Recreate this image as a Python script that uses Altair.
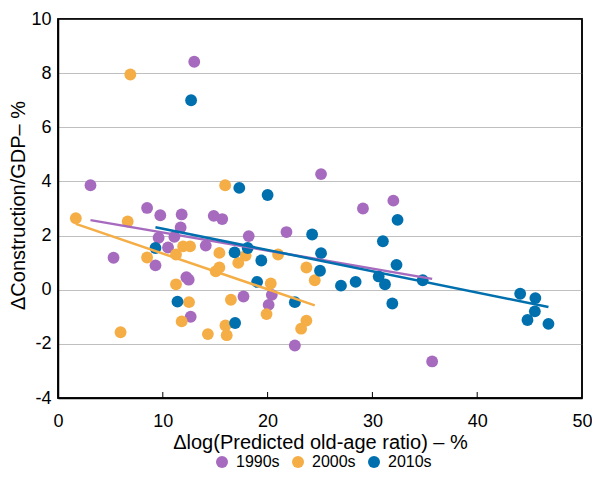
import altair as alt
import pandas as pd

# ---- data ----
x90 = [3.1, 5.3, 8.5, 9.76, 11.8, 11.7, 11.1, 9.6, 10.5, 9.3, 12.25, 12.47, 12.66, 13.0,
       14.86, 15.67, 14.1, 18.2, 17.7, 20.4, 20.1, 21.8, 22.6, 25.1, 29.1, 32.0, 35.7]
y90 = [3.86, 1.18, 3.02, 2.75, 2.78, 2.3, 1.95, 1.92, 1.56, 0.9, 0.46, 0.37, -1.0, 8.42,
       2.73, 2.61, 1.63, 1.98, -0.25, -0.19, -0.56, 2.13, -2.06, 4.27, 3.0, 3.29, -2.65]

x00 = [6.9, 1.7, 6.65, 8.5, 5.97, 11.26, 11.94, 12.6, 11.26, 12.5, 11.8, 15.95, 15.4, 15.4,
       15.05, 17.2, 17.9, 16.5, 14.3, 15.98, 16.1, 20.3, 19.9, 21.0, 23.7, 23.2, 23.7, 24.5]
y00 = [7.95, 2.64, 2.52, 1.19, -1.57, 1.3, 1.6, 1.6, 0.2, -0.46, -1.17, 3.86, 1.36, 0.82,
       0.68, 0.99, 1.26, -0.37, -1.64, -1.32, -1.68, 0.23, -0.9, 1.3, -1.14, -1.44, 0.82, 0.35]

x10 = [12.7, 9.3, 11.4, 17.3, 20.0, 16.85, 18.1, 19.4, 19.0, 16.9, 22.6, 24.25, 25.1, 25.0,
       27.0, 28.4, 31.0, 32.4, 32.3, 30.6, 31.2, 31.9, 34.8, 44.1, 45.55, 45.5, 44.8, 46.8]
y10 = [7.0, 1.54, -0.44, 3.76, 3.5, 1.38, 1.54, 1.08, 0.29, -1.23, -0.46, 2.04, 1.35, 0.7,
       0.15, 0.29, 1.79, 2.58, 0.92, 0.49, 0.2, -0.51, 0.35, -0.15, -0.31, -0.8, -1.12, -1.26]

# fitted trend lines (end points)
trend_x90 = [3.1, 35.7]
trend_y90 = [2.57, 0.40]
trend_x00 = [1.7, 24.5]
trend_y00 = [2.43, -0.58]
trend_x10 = [9.3, 46.8]
trend_y10 = [2.31, -0.64]

series = ["1990s", "2000s", "2010s"]
colors = ["#a66bbe", "#f5ad45", "#006fae"]
x_ticks = [0, 10, 20, 30, 40, 50]
y_ticks = [-4, -2, 0, 2, 4, 6, 8, 10]
inner_ticks = [10, 20, 30, 40]

pts = pd.concat([
    pd.DataFrame({"x": x90, "y": y90, "s": "1990s"}),
    pd.DataFrame({"x": x00, "y": y00, "s": "2000s"}),
    pd.DataFrame({"x": x10, "y": y10, "s": "2010s"}),
], ignore_index=True)
pts["o"] = pts["s"].map({k: i for i, k in enumerate(series)})

lines = pd.concat([
    pd.DataFrame({"x": trend_x90, "y": trend_y90, "s": "1990s"}),
    pd.DataFrame({"x": trend_x00, "y": trend_y00, "s": "2000s"}),
    pd.DataFrame({"x": trend_x10, "y": trend_y10, "s": "2010s"}),
], ignore_index=True)

FONT = "Liberation Sans"
W, H = 524, 379

xscale = alt.Scale(domain=[0, 50], nice=False, zero=False)
yscale = alt.Scale(domain=[-4, 10], nice=False, zero=False)
cscale = alt.Scale(domain=series, range=colors)

xaxis = alt.Axis(values=x_ticks, grid=False, ticks=False, labelPadding=14,
                 labelFontSize=18, labelFont=FONT, labelColor="black",
                 labelExpr="'' + datum.value",
                 domainColor="black", domainWidth=1.5,
                 title="Δlog(Predicted old-age ratio) – %", titleFontSize=20,
                 titleFont=FONT, titleFontWeight="normal", titleColor="black",
                 titleY=50, titleBaseline="alphabetic", labelFlush=False)
yaxis = alt.Axis(values=y_ticks, grid=True, gridColor="#bfbfbf", gridWidth=1,
                 ticks=False, labelPadding=7, labelFontSize=18, labelFont=FONT,
                 labelColor="black", labelExpr="'' + datum.value",
                 domainColor="black", domainWidth=1.5,
                 title="ΔConstruction/GDP– %", titleFontSize=20, titleFont=FONT,
                 titleFontWeight="normal", titleColor="black", titleAngle=270,
                 titleX=-34, titleY=186, titleAlign="center",
                 titleBaseline="alphabetic", labelFlush=False)

points = alt.Chart(pts).mark_circle(size=140, opacity=1).encode(
    x=alt.X("x:Q", scale=xscale, axis=xaxis),
    y=alt.Y("y:Q", scale=yscale, axis=yaxis),
    color=alt.Color("s:N", scale=cscale, legend=alt.Legend(
        title=None, orient="none", direction="horizontal", legendX=156, legendY=435,
        symbolType="circle", symbolSize=144, symbolStrokeWidth=0,
        labelFontSize=16, labelFont=FONT, labelColor="black", labelOffset=6,
        columnPadding=10, padding=0)),
    order=alt.Order("o:Q"),
)

trend = alt.Chart(lines).mark_line(strokeWidth=2.5).encode(
    x=alt.X("x:Q", scale=xscale),
    y=alt.Y("y:Q", scale=yscale),
    color=alt.Color("s:N", scale=cscale, legend=None),
    detail="s:N",
)

tick_df = pd.DataFrame({"x": inner_ticks})
ticks = alt.Chart(tick_df).mark_rule(color="black", strokeWidth=1).encode(
    x=alt.X("x:Q", scale=xscale),
    y=alt.value(H),
    y2=alt.value(H - 6),
)

frame = alt.Chart(pd.DataFrame({"k": [0]})).mark_rect(
    fill=None, fillOpacity=0, stroke="black", strokeWidth=1.5
).encode(
    x=alt.value(0), x2=alt.value(W), y=alt.value(0), y2=alt.value(H)
)

chart = alt.layer(points, trend, ticks, frame).properties(
    width=W, height=H,
    background="white",
    autosize=alt.AutoSizeParams(type="none"),
    padding={"left": 50, "top": 11, "right": 10, "bottom": 75},
).configure_view(stroke="black", strokeWidth=1.5)

chart.save("out.html", embed_options={"renderer": "svg", "actions": False})
